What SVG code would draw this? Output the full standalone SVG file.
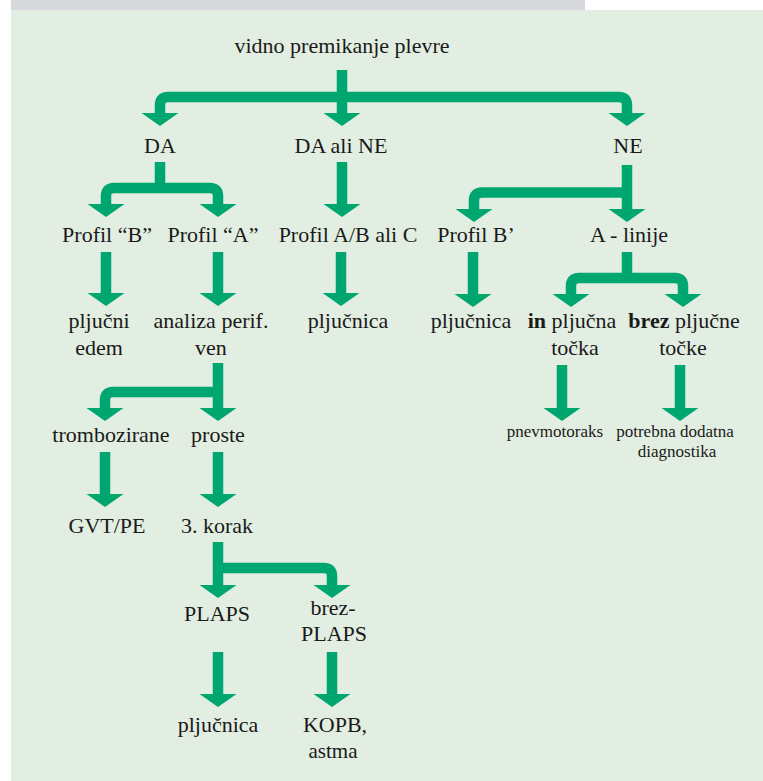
<svg xmlns="http://www.w3.org/2000/svg" xmlns:xlink="http://www.w3.org/1999/xlink" width="763" height="781" viewBox="0 0 763 781">
<style>
text{font-family:"Liberation Serif","DejaVu Serif","Noto Serif","Times New Roman",Times,serif;font-size:22px;fill:#1a1a1a;text-anchor:middle}
.s{font-size:17px}
.b{font-weight:bold}
.c{fill:none;stroke:#00a66f;stroke-width:10.5;stroke-linejoin:round}
.h{fill:#00a66f}
</style>
<defs>
<path id="ah" d="M-18.5,0 H18.5 L0,13 Z"/>
</defs>
<rect x="0" y="0" width="763" height="781" fill="#ffffff"/>
<rect x="11" y="0" width="574" height="10" fill="#d7d8dc"/>
<rect x="11" y="10" width="752" height="771" fill="#e2eee1"/>
<g id="connectors">
<path class="c" d="M342 70 V114"/>
<path class="c" d="M160 114 V105 Q160 97 168 97 H619 Q627 97 627 105 V114"/>
<path class="c" d="M160 162 V188"/>
<path class="c" d="M106 205 V196 Q106 188 114 188 H210 Q218 188 218 196 V205"/>
<path class="c" d="M342 162 V205"/>
<path class="c" d="M627 165 V210"/>
<path class="c" d="M474 210 V200.5 Q474 192.5 482 192.5 H627"/>
<path class="c" d="M106 252 V294"/>
<path class="c" d="M218 252 V294"/>
<path class="c" d="M341 252 V294"/>
<path class="c" d="M473 252 V295"/>
<path class="c" d="M627 252 V278"/>
<path class="c" d="M571 295 V286 Q571 278 579 278 H675 Q683 278 683 286 V295"/>
<path class="c" d="M562 365 V409"/>
<path class="c" d="M680 365 V409"/>
<path class="c" d="M218 363 V409"/>
<path class="c" d="M218 392 H113 Q105 392 105 400 V409"/>
<path class="c" d="M105 452 V495"/>
<path class="c" d="M218 452 V495"/>
<path class="c" d="M218 542 V586"/>
<path class="c" d="M218 568 H324 Q332 568 332 576 V586"/>
<path class="c" d="M218 652 V695"/>
<path class="c" d="M332 652 V695"/>
<use class="h" xlink:href="#ah" x="160" y="113"/>
<use class="h" xlink:href="#ah" x="342" y="113"/>
<use class="h" xlink:href="#ah" x="627" y="113"/>
<use class="h" xlink:href="#ah" x="106" y="204"/>
<use class="h" xlink:href="#ah" x="218" y="204"/>
<use class="h" xlink:href="#ah" x="342" y="204"/>
<use class="h" xlink:href="#ah" x="474" y="209"/>
<use class="h" xlink:href="#ah" x="627" y="209"/>
<use class="h" xlink:href="#ah" x="106" y="293"/>
<use class="h" xlink:href="#ah" x="218" y="293"/>
<use class="h" xlink:href="#ah" x="341" y="293"/>
<use class="h" xlink:href="#ah" x="473" y="294"/>
<use class="h" xlink:href="#ah" x="571" y="294"/>
<use class="h" xlink:href="#ah" x="683" y="294"/>
<use class="h" xlink:href="#ah" x="562" y="408"/>
<use class="h" xlink:href="#ah" x="680" y="408"/>
<use class="h" xlink:href="#ah" x="105" y="408"/>
<use class="h" xlink:href="#ah" x="218" y="408"/>
<use class="h" xlink:href="#ah" x="105" y="494"/>
<use class="h" xlink:href="#ah" x="218" y="494"/>
<use class="h" xlink:href="#ah" x="218" y="585"/>
<use class="h" xlink:href="#ah" x="332" y="585"/>
<use class="h" xlink:href="#ah" x="218" y="694"/>
<use class="h" xlink:href="#ah" x="332" y="694"/>
</g>
<g id="n-root"><text x="342" y="53">vidno premikanje plevre</text></g>
<g id="n-da"><text x="160" y="153">DA</text></g>
<g id="n-daline"><text x="341" y="153">DA ali NE</text></g>
<g id="n-ne"><text x="628" y="153">NE</text></g>
<g id="n-profb"><text x="107" y="242">Profil “B”</text></g>
<g id="n-profa"><text x="213" y="242">Profil “A”</text></g>
<g id="n-profab"><text x="348" y="242">Profil A/B ali C</text></g>
<g id="n-profb2"><text x="476" y="242">Profil B’</text></g>
<g id="n-alinije"><text x="629" y="242">A - linije</text></g>
<g id="n-edem"><text x="99" y="328">pljučni</text><text x="99" y="355">edem</text></g>
<g id="n-analiza"><text x="211" y="328">analiza perif.</text><text x="211" y="355">ven</text></g>
<g id="n-pljucnica1"><text x="348" y="328">pljučnica</text></g>
<g id="n-pljucnica2"><text x="471" y="328">pljučnica</text></g>
<g id="n-in"><text x="572" y="328"><tspan class="b">in</tspan> pljučna</text><text x="575" y="355">točka</text></g>
<g id="n-brez"><text x="684" y="328"><tspan class="b">brez</tspan> pljučne</text><text x="683" y="355">točke</text></g>
<g id="n-pnevmo"><text class="s" x="555" y="437">pnevmotoraks</text></g>
<g id="n-potrebna"><text class="s" x="675" y="437">potrebna dodatna</text><text class="s" x="677" y="457">diagnostika</text></g>
<g id="n-tromb"><text x="111" y="442">trombozirane</text></g>
<g id="n-proste"><text x="218" y="442">proste</text></g>
<g id="n-gvt"><text x="107" y="533">GVT/PE</text></g>
<g id="n-korak"><text x="217" y="533">3. korak</text></g>
<g id="n-plaps"><text x="217" y="621">PLAPS</text></g>
<g id="n-brezplaps"><text x="333" y="615">brez-</text><text x="334" y="641">PLAPS</text></g>
<g id="n-pljucnica3"><text x="218" y="732">pljučnica</text></g>
<g id="n-kopb"><text x="335" y="732">KOPB,</text><text x="333" y="758" style="font-size:21px">astma</text></g>
</svg>
